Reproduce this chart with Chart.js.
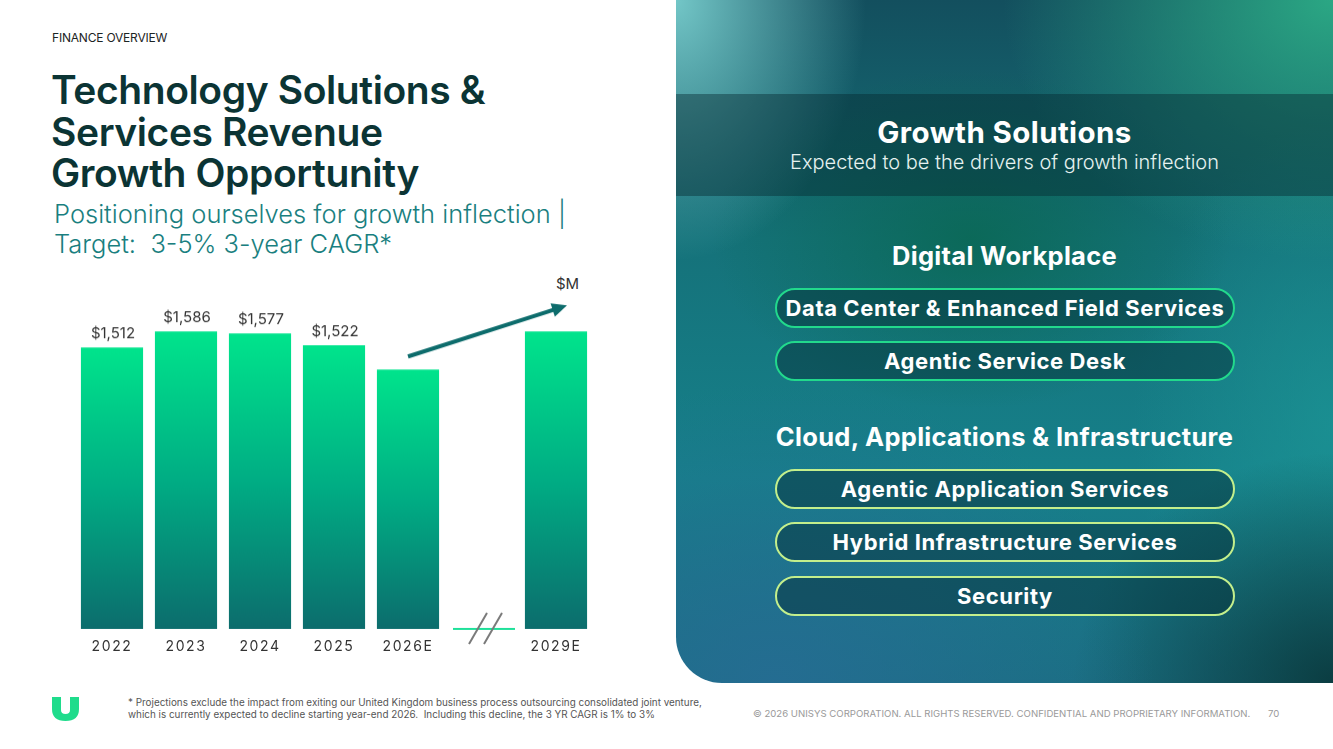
<!DOCTYPE html>
<html>
<head>
<meta charset="utf-8">
<script src="https://cdn.jsdelivr.net/npm/chart.js@4.4.1/dist/chart.umd.min.js"></script>
<style>
  body { margin: 0; background: #fff; }
  #slide { position: relative; width: 1333px; height: 749px; overflow: hidden; background: #fff; font-family: Inter, "Noto Sans", sans-serif; }
  .abs { position: absolute; white-space: nowrap; }
  #kicker { left: 52px; top: 30px; font-size: 12px; color: #1c2424; letter-spacing: -0.2px; }
  #title { left: 51px; top: 69px; font-size: 39px; line-height: 41.5px; font-weight: 600; color: #0b3434; letter-spacing: -0.4px; }
  #subtitle { left: 54px; top: 199px; font-size: 25.5px; line-height: 30px; font-weight: 300; color: #1a7f80; letter-spacing: 0; }
  #unit { left: 556px; top: 274px; font-size: 15px; color: #333; }
  #chartBox { position: absolute; left: 75px; top: 260px; width: 518px; height: 402.8px; }
  #panel { position: absolute; left: 676px; top: 0; width: 657px; height: 683px; border-bottom-left-radius: 46px; overflow: hidden;
    background:
      radial-gradient(ellipse 190px 260px at 0% 0%, rgba(120,205,205,0.95), rgba(120,205,205,0) 100%),
      radial-gradient(ellipse 330px 260px at 100% 0%, rgba(44,172,134,0.95), rgba(44,172,134,0) 100%),
      radial-gradient(ellipse 380px 300px at 15% 100%, rgba(38,108,148,0.85), rgba(38,108,148,0) 100%),
      radial-gradient(ellipse 260px 230px at 100% 100%, rgba(10,58,62,0.95), rgba(10,58,62,0) 100%),
      radial-gradient(ellipse 260px 170px at 45% 35%, rgba(8,102,78,0.75), rgba(8,102,78,0) 100%),
      radial-gradient(ellipse 200px 300px at 100% 62%, rgba(28,150,150,0.7), rgba(28,150,150,0) 100%),
      linear-gradient(180deg, #134f5e 0%, #15727a 35%, #16808a 70%, #1a6f82 100%);
    color: #fff; }
  #band { position: absolute; left: 0; top: 94px; width: 657px; height: 102px; background: rgba(4,38,46,0.42); }
  .c { position: absolute; left: 0; width: 657px; text-align: center; }
  .h { font-weight: 700; font-size: 25.5px; letter-spacing: 0.3px; }
  .pill { position: absolute; left: 99px; width: 456px; height: 36px; border-radius: 20px; text-align: center; line-height: 36px;
    font-weight: 700; font-size: 22px; letter-spacing: 0.6px; background: rgba(6,50,58,0.5); }
  .g { border: 2px solid #22d98c; }
  .y { border: 2px solid #c3ef8c; }
  #foot { left: 128px; top: 697px; font-size: 9.9px; line-height: 11.5px; color: #555; letter-spacing: 0; }
  #copy { left: 753px; top: 708px; font-size: 9.6px; color: #9a9a9a; }
  #page { left: 1268px; top: 708px; font-size: 9.6px; color: #9a9a9a; }
</style>
</head>
<body>
<div id="slide">
  <div class="abs" id="kicker">FINANCE OVERVIEW</div>
  <div class="abs" id="title">Technology Solutions &amp;<br>Services Revenue<br>Growth Opportunity</div>
  <div class="abs" id="subtitle">Positioning ourselves for growth inflection |<br>Target:&nbsp; 3-5% 3-year CAGR*</div>
  <div class="abs" id="unit">$M</div>
  <div id="chartBox"><canvas id="chart"></canvas></div>

  <div id="panel">
    <div id="band"></div>
    <div class="c" style="top:114px; font-size:29.5px; font-weight:700; letter-spacing:0.4px;">Growth Solutions</div>
    <div class="c" style="top:150px; font-size:20px; font-weight:300; color:#e6f2f0;">Expected to be the drivers of growth inflection</div>
    <div class="c h" style="top:240px;">Digital Workplace</div>
    <div class="pill g" style="top:288px;">Data Center &amp; Enhanced Field Services</div>
    <div class="pill g" style="top:341px;">Agentic Service Desk</div>
    <div class="c h" style="top:421px;">Cloud, Applications &amp; Infrastructure</div>
    <div class="pill y" style="top:469px;">Agentic Application Services</div>
    <div class="pill y" style="top:522px;">Hybrid Infrastructure Services</div>
    <div class="pill y" style="top:576px;">Security</div>
  </div>

  <svg class="abs" style="left:52px; top:697px;" width="27" height="24" viewBox="0 0 27 24">
    <path d="M0 0 H9 V13 Q9 17 13.5 17 Q18 17 18 13 V0 H27 V12 Q27 24 13.5 24 Q0 24 0 12 Z" fill="#1fdc8c"/>
  </svg>
  <div class="abs" id="foot">* Projections exclude the impact from exiting our United Kingdom business process outsourcing consolidated joint venture,<br>which is currently expected to decline starting year-end 2026.&nbsp; Including this decline, the 3 YR CAGR is 1% to 3%</div>
  <div class="abs" id="copy">© 2026 UNISYS CORPORATION. ALL RIGHTS RESERVED. CONFIDENTIAL AND PROPRIETARY INFORMATION.</div>
  <div class="abs" id="page">70</div>
</div>

<script>
// chart data
const categories = ['2022', '2023', '2024', '2025', '2026E', '', '2029E'];
const revenue = [1512, 1586, 1577, 1522, 1410, null, 1586];
const valueLabels = ['$1,512', '$1,586', '$1,577', '$1,522', '', '', ''];
const breakIndex = 5;
const yMin = 211;
const yMax = 1731;

// gradient for each bar, from its top to the baseline
const barFill = (context) => {
    const chart = context.chart;
    const v = context.raw;
    if (!chart.chartArea || v == null) return '#00c488';
    const top = chart.scales.y.getPixelForValue(v);
    const bottom = chart.scales.y.getPixelForValue(yMin);
    const g = chart.ctx.createLinearGradient(0, top, 0, bottom);
    g.addColorStop(0, '#00e48c');
    g.addColorStop(0.5, '#00ad84');
    g.addColorStop(1, '#0c6d6d');
    return g;
}

// letter spacing for the year ticks
const spacing = {
    id: 'spacing',
    beforeDraw: (chart) => { chart.ctx.letterSpacing = '1.6px'; },
    beforeDatasetsDraw: (chart) => { chart.ctx.letterSpacing = '0px'; },
};

// value labels, the axis break and the growth arrow
const extras = {
    id: 'extras',
    afterDatasetsDraw: (chart) => {
        const ctx = chart.ctx;
        const meta = chart.getDatasetMeta(0);
        const x = chart.scales.x;
        const y = chart.scales.y;
        ctx.save();
        ctx.font = '15px Inter, "Noto Sans", sans-serif';
        ctx.fillStyle = '#333';
        ctx.textAlign = 'center';
        ctx.textBaseline = 'alphabetic';
        meta.data.forEach((bar, i) => {
            if (valueLabels[i]) ctx.fillText(valueLabels[i], bar.x + 1, bar.y - 9);
        });

        // break marker in the empty slot
        const bx = x.getPixelForValue(breakIndex);
        const by = y.getPixelForValue(yMin);
        ctx.strokeStyle = '#1fe09a';
        ctx.lineWidth = 2;
        ctx.beginPath();
        ctx.moveTo(bx - 29, by);
        ctx.lineTo(bx + 33, by);
        ctx.stroke();
        ctx.strokeStyle = '#7a7a7a';
        ctx.beginPath();
        ctx.moveTo(bx - 13, by + 15);
        ctx.lineTo(bx + 5, by - 16);
        ctx.moveTo(bx + 2, by + 15);
        ctx.lineTo(bx + 20, by - 16);
        ctx.stroke();

        // arrow from 2026E to 2029E
        const x0 = meta.data[4].x;
        const y0 = meta.data[4].y - 13;
        const x1 = meta.data[6].x + 11;
        const y1 = meta.data[6].y - 26;
        const ang = Math.atan2(y1 - y0, x1 - x0);
        ctx.strokeStyle = '#0d6c6c';
        ctx.fillStyle = '#0d6c6c';
        ctx.lineWidth = 4;
        ctx.beginPath();
        ctx.moveTo(x0, y0);
        ctx.lineTo(x1 - 10 * Math.cos(ang), y1 - 10 * Math.sin(ang));
        ctx.stroke();
        ctx.beginPath();
        ctx.moveTo(x1, y1);
        ctx.lineTo(x1 - 15 * Math.cos(ang) + 7 * Math.sin(ang), y1 - 15 * Math.sin(ang) - 7 * Math.cos(ang));
        ctx.lineTo(x1 - 15 * Math.cos(ang) - 7 * Math.sin(ang), y1 - 15 * Math.sin(ang) + 7 * Math.cos(ang));
        ctx.closePath();
        ctx.fill();
        ctx.restore();
    }
};

const chart = new Chart(document.getElementById('chart'), {
    type: 'bar',
    data: {
        labels: categories,
        datasets: [{
            data: revenue,
            backgroundColor: barFill,
            borderWidth: 0,
            barPercentage: 0.84,
            categoryPercentage: 1,
        }],
    },
    options: {
        responsive: true,
        maintainAspectRatio: false,
        animation: false,
        layout: { padding: { top: 40, left: 0, right: 0, bottom: 0 } },
        plugins: { legend: { display: false }, tooltip: { enabled: false } },
        scales: {
            x: {
                grid: { display: false, drawTicks: false },
                border: { display: false },
                ticks: {
                    padding: 9,
                    color: '#333',
                    font: { size: 14, family: 'Inter, "Noto Sans", sans-serif' },
                },
            },
            y: { display: false, min: yMin, max: yMax },
        },
    },
    plugins: [spacing, extras],
});
</script>
</body>
</html>
